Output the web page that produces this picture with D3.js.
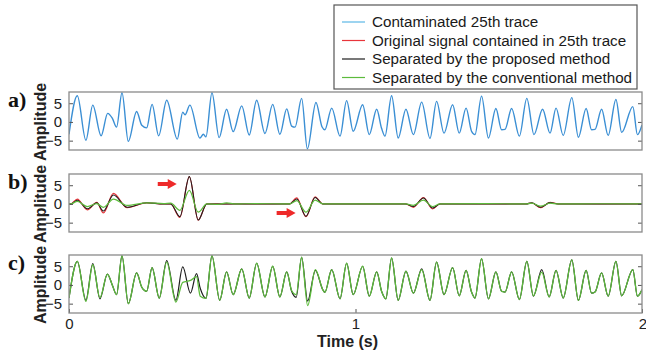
<!DOCTYPE html>
<html>
<head>
<meta charset="utf-8">
<script src="https://cdn.jsdelivr.net/npm/d3@7"></script>
<style>
  html, body { margin: 0; padding: 0; background: #fff; }
  svg { display: block; font-family: "Liberation Sans", Arial, sans-serif; }
</style>
</head>
<body>
<svg id="chart" width="646" height="350"></svg>
<script>
// ---- data ---------------------------------------------------------------
// (a) contaminated 25th trace: extrema of the waveform (time s, amplitude)
const traceT = [0.000,0.029,0.059,0.083,0.112,0.135,0.151,0.166,0.185,0.207,0.236,0.254,0.271,0.290,0.313,0.341,0.378,0.397,0.405,0.422,0.457,0.469,0.478,0.499,0.524,0.550,0.573,0.603,0.629,0.655,0.684,0.711,0.736,0.760,0.777,0.789,0.812,0.832,0.862,0.883,0.893,0.917,0.946,0.969,0.992,1.025,1.048,1.074,1.091,1.103,1.126,1.149,1.176,1.202,1.231,1.260,1.283,1.309,1.339,1.362,1.386,1.405,1.417,1.440,1.464,1.490,1.510,1.522,1.545,1.572,1.598,1.623,1.653,1.679,1.700,1.725,1.755,1.778,1.805,1.824,1.836,1.859,1.882,1.909,1.929,1.968,1.984,2.000];
const traceV = [-3.3,7.0,-4.9,4.5,-3.7,2.3,1.0,-1.4,7.8,-5.2,2.8,-0.9,-1.6,4.7,-3.7,5.8,-4.6,2.6,1.9,4.5,-4.3,-3.3,-4.0,7.8,-4.2,3.4,-2.6,4.3,-3.5,5.8,-3.1,4.7,-3.3,3.5,-1.1,-1.4,6.3,-7.2,5.2,-1.3,-2.1,3.7,-3.8,5.7,-2.5,4.6,-3.4,3.4,-1.7,-3.8,7.0,-4.3,3.4,-3.4,5.3,-4.4,5.5,-3.0,4.6,-3.0,3.7,-2.5,-3.4,6.9,-4.3,3.6,-2.1,-2.0,3.6,-3.8,6.3,-3.4,3.4,-3.0,3.7,-3.6,6.5,-4.1,3.6,-2.1,-2.0,3.4,-3.6,6.0,-2.8,4.1,-3.4,-0.8];

// (b) signal contained in the trace and the two separated estimates
const sigT       = [0.000,0.006,0.029,0.064,0.097,0.120,0.155,0.203,0.271,0.330,0.355,0.387,0.420,0.451,0.481,0.520,0.550,0.580,0.650,0.770,0.795,0.827,0.859,0.886,1.000,1.175,1.202,1.237,1.269,1.295,1.450,1.595,1.615,1.646,1.679,1.707,1.850,2.000];
const originalV  = [0,0,1.3,-1.6,0.4,-2.4,2.8,-1.0,0.3,0,0,-3.6,7.3,-4.3,0,0,0,0,0,0,1.6,-3.4,1.9,0,0,0,-0.9,1.7,-1.3,0,0,0,0.3,-1.0,0.4,0,0,0];
const proposedV  = [0,0,1.0,-1.3,0.3,-1.9,2.4,-0.9,0.3,0,0,-3.4,7.3,-4.3,0,0,0,0,0,0,1.3,-3.3,1.7,0,0,0,-0.7,1.6,-1.1,0,0,0,0.3,-0.9,0.35,0,0,0];
const conventV   = [0,0,0.7,-0.7,0.1,-0.9,1.3,-0.4,0.3,0.1,0.2,-1.7,3.6,-2.2,0,-0.1,0.3,0,0.1,0,0.9,-2.2,1.0,0,0,0,-0.4,1.0,-0.7,0,0.1,0,0.2,-0.6,0.2,0,0.05,0];

// (c) remaining part of the trace after separation
const restT      = [0.000,0.029,0.059,0.083,0.108,0.134,0.151,0.166,0.185,0.207,0.236,0.254,0.271,0.290,0.315,0.341,0.373,0.397,0.424,0.445,0.458,0.478,0.499,0.526,0.550,0.573,0.603,0.629,0.655,0.684,0.711,0.736,0.760,0.777,0.793,0.812,0.833,0.860,0.886,0.893,0.917,0.946,0.969,0.992,1.025,1.048,1.074,1.091,1.106,1.126,1.149,1.176,1.202,1.231,1.260,1.283,1.309,1.339,1.362,1.386,1.405,1.417,1.440,1.464,1.490,1.510,1.522,1.545,1.572,1.598,1.621,1.650,1.676,1.700,1.725,1.755,1.778,1.805,1.824,1.836,1.859,1.882,1.909,1.929,1.968,1.984,2.000];
const restPropV  = [-3.5,6.3,-4.1,5.7,-3.7,2.9,0.0,-2.6,7.8,-5.0,3.2,-0.6,-1.7,4.6,-3.5,6.5,-4.1,4.8,-2.2,3.0,-0.9,-3.6,7.8,-4.1,3.5,-2.6,4.3,-3.5,5.8,-3.2,5.0,-3.2,3.5,-1.7,-3.3,7.4,-4.3,3.9,-1.3,-2.0,4.1,-3.7,5.8,-2.6,5.0,-3.0,3.5,-1.7,-3.7,7.2,-4.1,3.7,-2.2,4.3,-4.1,6.1,-2.6,4.6,-2.9,3.9,-1.9,-3.5,7.0,-3.7,3.5,-1.7,-1.9,3.5,-3.9,6.3,-3.0,4.1,-3.2,3.9,-3.5,6.7,-4.1,3.9,-2.2,-1.9,3.2,-3.0,6.3,-2.9,4.1,-3.0,-1.3];
const restConvV  = [-3.5,6.3,-4.4,5.4,-3.4,2.9,0.0,-2.6,7.8,-5.0,3.2,-0.6,-1.7,4.6,-3.5,6.1,-4.6,0.7,1.2,2.2,-3.0,-3.6,7.8,-4.1,3.5,-2.6,4.3,-3.5,5.8,-3.2,5.0,-3.2,3.5,-1.5,-2.6,7.4,-5.5,4.1,-1.3,-2.0,4.1,-3.7,5.8,-2.6,5.0,-3.0,3.5,-1.7,-3.7,7.2,-4.1,3.7,-2.2,4.1,-4.1,6.1,-2.6,4.6,-2.9,3.9,-1.9,-3.5,7.0,-3.7,3.5,-1.7,-1.9,3.5,-3.9,6.3,-2.9,3.4,-3.2,3.9,-3.5,6.7,-4.1,3.9,-2.2,-1.9,3.2,-3.0,6.3,-2.9,4.1,-3.0,-1.3];

const yTicks = [-5, 0, 5];
const xTicks = [0, 1, 2];
const legendLabels = ["Contaminated 25th trace", "Original signal contained in 25th trace",
                      "Separated by the proposed method", "Separated by the conventional method"];
const panelLabels = ["a)", "b)", "c)"];
// markers pointing at the two events of panel b: [time, amplitude]
const arrowTips = [[0.397, 5.3], [0.812, -2.4]];

// ---- styles -------------------------------------------------------------
const COLORS = { trace: "#3b8fd4", original: "#e8353b", proposed: "#1e1e1e", conventional: "#5cbb3c" };
const legendColors = ["#5cb8e6", COLORS.original, COLORS.proposed, COLORS.conventional];

const svg = d3.select("#chart");
const left = 69, right = 642;
const panelTops = [92, 174, 255];
const panelH = 58;

const x = d3.scaleLinear().domain([0, 2]).range([left, right]);

function zip(ts, vs) { return ts.map((t, i) => [t, vs[i]]); }

const panels = [
  [{ data: zip(traceT, traceV), color: COLORS.trace, w: 1.4 }],
  [{ data: zip(sigT, originalV), color: COLORS.original, w: 1.2 },
   { data: zip(sigT, proposedV), color: COLORS.proposed, w: 1.1 },
   { data: zip(sigT, conventV), color: COLORS.conventional, w: 1.2 }],
  [{ data: zip(restT, restPropV), color: COLORS.proposed, w: 1.2 },
   { data: zip(restT, restConvV), color: COLORS.conventional, w: 1.3 }]
];

const defs = svg.append("defs");

panels.forEach((series, i) => {
  const top = panelTops[i];
  const y = d3.scaleLinear().domain([-7.5, 8]).range([top + panelH, top]);
  const g = svg.append("g");

  defs.append("clipPath").attr("id", "clip" + i)
    .append("rect").attr("x", left).attr("y", top).attr("width", right - left).attr("height", panelH);

  const line = d3.line().x(d => x(d[0])).y(d => y(d[1])).curve(d3.curveMonotoneX);
  const lines = g.append("g").attr("clip-path", `url(#clip${i})`);
  series.forEach(s => {
    lines.append("path").attr("d", line(s.data))
      .attr("fill", "none").attr("stroke", s.color).attr("stroke-width", s.w)
      .attr("stroke-linejoin", "round");
  });

  // inward ticks on both sides, labels on the left
  const yAxisL = d3.axisLeft(y).tickValues(yTicks).tickSizeInner(-4).tickSizeOuter(0)
    .tickPadding(7).tickFormat(d => d < 0 ? "\u2212" + Math.abs(d) : d);
  const ga = g.append("g").attr("transform", `translate(${left},0)`).call(yAxisL);
  ga.select(".domain").remove();
  ga.selectAll("line").attr("stroke", "#555");
  ga.selectAll("text").attr("font-size", 15).attr("fill", "#222")
    .attr("font-family", "'Liberation Sans', Arial, sans-serif");

  const yAxisR = d3.axisRight(y).tickValues(yTicks).tickSizeInner(-4).tickSizeOuter(0).tickFormat("");
  const gr = g.append("g").attr("transform", `translate(${right},0)`).call(yAxisR);
  gr.select(".domain").remove();
  gr.selectAll("line").attr("stroke", "#555");

  if (i === 2) {
    const xAxis = d3.axisBottom(x).tickValues(xTicks).tickSizeInner(-4).tickSizeOuter(0)
      .tickPadding(5).tickFormat(d3.format("d"));
    const gx = g.append("g").attr("transform", `translate(0,${top + panelH})`).call(xAxis);
    gx.select(".domain").remove();
    gx.selectAll("line").attr("stroke", "#555");
    gx.selectAll("text").attr("font-size", 15).attr("fill", "#222")
      .attr("font-family", "'Liberation Sans', Arial, sans-serif");
    gx.selectAll(".tick").filter(d => d === 2).select("text").attr("text-anchor", "end").attr("dx", "0.3em");
  }

  // frame
  g.append("rect").attr("x", left).attr("y", top).attr("width", right - left).attr("height", panelH)
    .attr("fill", "none").attr("stroke", "#8a8a8a").attr("stroke-width", 1.3);

  // y label
  g.append("text").attr("transform", `translate(46,${top + panelH / 2 + 1}) rotate(-90)`)
    .attr("text-anchor", "middle").attr("font-weight", "bold").attr("font-size", 16)
    .attr("fill", "#222").text("Amplitude");

  // panel letter
  g.append("text").attr("x", 8).attr("y", top + 15)
    .attr("font-family", "'Liberation Serif', 'Times New Roman', serif")
    .attr("font-weight", "bold").attr("font-size", 22).attr("fill", "#111").text(panelLabels[i]);

  if (i === 1) {
    arrowTips.forEach(([t, v]) => {
      const tx = x(t) - 6, ty = y(v);
      const path = d3.path();
      path.moveTo(tx, ty);
      path.lineTo(tx - 9, ty - 5);
      path.lineTo(tx - 9, ty - 2);
      path.lineTo(tx - 19, ty - 2);
      path.lineTo(tx - 19, ty + 2);
      path.lineTo(tx - 9, ty + 2);
      path.lineTo(tx - 9, ty + 5);
      path.closePath();
      g.append("path").attr("d", path.toString()).attr("fill", "#ee2a2a");
    });
  }
});

// x label
svg.append("text").attr("x", x(1) - 8).attr("y", 347).attr("text-anchor", "middle")
  .attr("font-weight", "bold").attr("font-size", 16).attr("fill", "#222").text("Time (s)");

// ---- legend -------------------------------------------------------------
const lg = svg.append("g");
lg.append("rect").attr("x", 334).attr("y", 5).attr("width", 303).attr("height", 84)
  .attr("fill", "#fff").attr("stroke", "#555").attr("stroke-width", 1.2);
legendLabels.forEach((lab, k) => {
  const cy = 22 + k * 18.5;
  lg.append("line").attr("x1", 342).attr("x2", 365).attr("y1", cy).attr("y2", cy)
    .attr("stroke", legendColors[k]).attr("stroke-width", 1.2);
  lg.append("text").attr("x", 372).attr("y", cy + 5).attr("font-size", 15.2).attr("fill", "#1a1a1a").text(lab);
});
</script>
</body>
</html>
